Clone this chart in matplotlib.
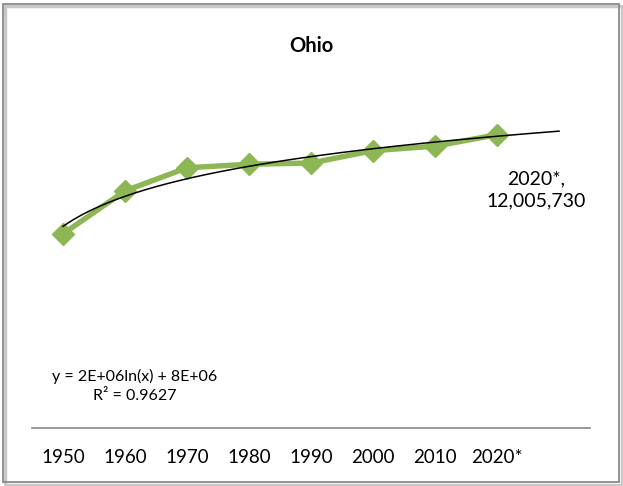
import matplotlib.pyplot as plt
import numpy as np
from matplotlib.patches import Rectangle

years = ["1950", "1960", "1970", "1980", "1990", "2000", "2010", "2020*"]
population = [7946627, 9706397, 10652017, 10797630, 10847115, 11353140, 11536504, 12005730]

green = "#8DB654"
plt.rcParams['font.family'] = ['Lato', 'DejaVu Sans']

fig = plt.figure(figsize=(6.23, 4.86), dpi=100)
ax = fig.add_axes([32 / 623, 58 / 486, 558 / 623, 342 / 486])

x = np.arange(1, len(years) + 1)
ax.plot(x, population, color=green, lw=3.9, marker="D", markersize=11,
        markeredgecolor=green, markerfacecolor=green, zorder=2)

# log trendline, forecast forward one period
a, b = np.polyfit(np.log(x), population, 1)
xt = np.linspace(1, len(years) + 1, 200)
ax.plot(xt, a * np.log(xt) + b, color="black", lw=1.1, zorder=3)

ax.set_xlim(0.5, len(years) + 1.5)
ax.set_ylim(0, 14000000)
ax.set_xticks(x)
ax.set_xticklabels(years, fontsize=13.5)
ax.tick_params(axis="x", length=0, pad=15)
ax.set_yticks([])
for s in ["top", "right", "left"]:
    ax.spines[s].set_visible(False)
ax.spines["bottom"].set_color("#868686")
ax.spines["bottom"].set_linewidth(1.2)

fig.text(311 / 623, 1 - 46 / 486, "Ohio", ha="center", va="center",
         fontsize=14.5, fontweight="bold")
fig.text(536 / 623, 1 - 190 / 486, "2020*,\n12,005,730", ha="center", va="center",
         fontsize=14, linespacing=1.35)
fig.text(135 / 623, 1 - 386 / 486, "y = 2E+06ln(x) + 8E+06\nR² = 0.9627", ha="center",
         va="center", fontsize=11.5, linespacing=1.4)

# chart border with a soft shadow
fig.patches.append(Rectangle((5 / 623, 1 / 486), 617 / 623, 479 / 486, transform=fig.transFigure,
                             fill=False, edgecolor="#c8c8c8", lw=2.5, zorder=0))
fig.patches.append(Rectangle((3 / 623, 4 / 486), 616 / 623, 478 / 486, transform=fig.transFigure,
                             fill=False, edgecolor="#8a8a8a", lw=1.3, zorder=1))

fig.savefig("out.png", dpi=100)
